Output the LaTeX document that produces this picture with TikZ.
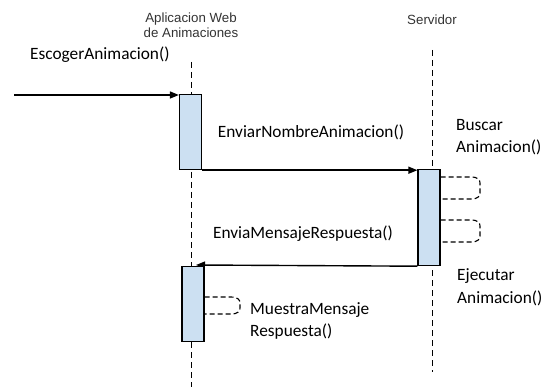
\documentclass[tikz,border=0pt]{standalone}
\usepackage{fontspec}
\setmainfont{Carlito}
\newfontfamily\headfont{Liberation Sans}
\usetikzlibrary{arrows.meta}
\definecolor{actfill}{HTML}{CCE0F2}
\tikzset{
  lifeline/.style={draw=black, line width=1pt, dash pattern=on 6pt off 4pt},
  actbox/.style={draw=black, fill=actfill, line width=1.2pt, minimum width=22pt, inner sep=0pt, anchor=north},
  msg/.style={draw=black, line width=1.4pt, -{Triangle[length=9pt,width=7pt]}},
  selfloop/.style={draw=black, line width=1.1pt, dash pattern=on 5pt off 3pt},
  headlbl/.style={font=\headfont\fontsize{13.3}{15}\selectfont, text=black!80, align=center},
  msglbl/.style={font=\fontsize{17.3}{22.5}\selectfont, inner sep=0pt},
}
% dashed self call: out to the right, a bracket-shaped return, back to the box
% (canvas y points up, so a negative yshift moves down)
\newcommand\selfcall[3]{% box anchor, top point, bottom point
  \draw[selfloop] (#1 |- #2) -- ([xshift=-9pt]#2)
    .. controls ([xshift=-2pt]#2) and ([yshift=-3pt]#2) .. ([yshift=-6pt]#2)
    -- ([yshift=6pt]#3)
    .. controls ([yshift=3pt]#3) and ([xshift=-2pt]#3) .. ([xshift=-9pt]#3)
    -- (#1 |- #3);}
\begin{document}
\begin{tikzpicture}[x=1pt, y=-1pt]
\useasboundingbox (0,0) rectangle (548,387);

% lifeline heads
\node[headlbl] (app) at (191,25) {Aplicacion Web\\de Animaciones};
\node[headlbl] (srv) at (432,20) {Servidor};

% lifelines
\coordinate (appTop) at (191,62);
\coordinate (appBot) at (191,387);
\coordinate (srvTop) at (432,50);
\coordinate (srvBot) at (432,372);
\draw[lifeline] (appTop) -- (appBot);
\draw[lifeline] (srvTop) -- (srvBot);

% activations
\node[actbox, minimum height=75pt] (a1) at (190.5,94) {};
\node[actbox, minimum height=96pt] (s1) at (429,169) {};

% incoming message
\coordinate (start) at (14,95);
\draw[msg] (start) -- (start -| a1.west);
\node[msglbl, anchor=west] (escoger) at (30,55) {EscogerAnimacion()};

% request to server
\draw[msg] (a1.south east) -- (a1.south east -| s1.west);
\node[msglbl] (enviar) at (311,132) {EnviarNombreAnimacion()};

% self calls on the server
\coordinate (l1a) at (480,177);
\coordinate (l1b) at (480,199);
\coordinate (l2a) at (480,220);
\coordinate (l2b) at (480,242);
\selfcall{s1.east}{l1a}{l1b}
\selfcall{s1.east}{l2a}{l2b}
\node[msglbl, anchor=west, align=left] (buscar) at (456,137) {Buscar\\Animacion()};
\node[msglbl, anchor=west, align=left] (ejecutar) at (457,287) {Ejecutar\\Animacion()};

% reply to the application
\coordinate (retEnd) at (196,265);
\draw[msg] (s1.south west) -- (retEnd);
\node[msglbl] (envia) at (303,234) {EnviaMensajeRespuesta()};
\node[actbox, minimum height=75pt] (a2) at (193,266) {};

% self call on the application
\coordinate (l3a) at (240,297);
\coordinate (l3b) at (240,314);
\selfcall{a2.east}{l3a}{l3b}
\node[msglbl, anchor=west, align=left] (muestra) at (250,321) {MuestraMensaje\\Respuesta()};
\end{tikzpicture}
\end{document}
